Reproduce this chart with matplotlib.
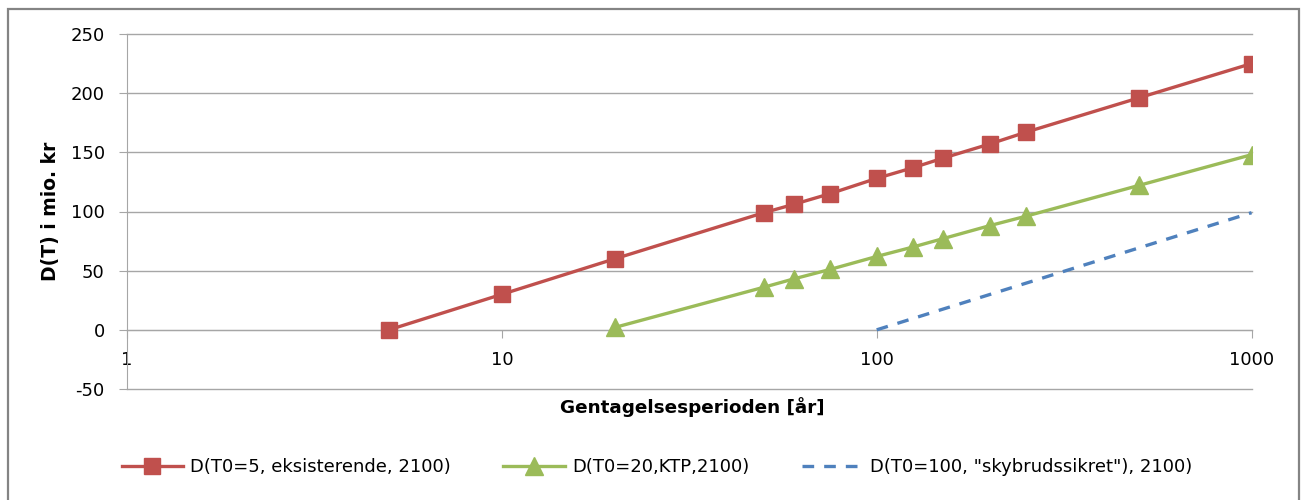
import matplotlib.pyplot as plt
from matplotlib.patches import Rectangle
from matplotlib.ticker import FixedLocator, NullLocator

# Data
t_red = [5, 10, 20, 50, 60, 75, 100, 125, 150, 200, 250, 500, 1000]
d_red = [0, 30, 60, 99, 106, 115, 128, 137, 145, 157, 167, 196, 225]

t_green = [20, 50, 60, 75, 100, 125, 150, 200, 250, 500, 1000]
d_green = [2, 36, 43, 51, 62, 70, 77, 88, 96, 122, 148]

t_blue = [100, 1000]
d_blue = [0, 99]

labels = [
    "D(T0=5, eksisterende, 2100)",
    "D(T0=20,KTP,2100)",
    'D(T0=100, "skybrudssikret"), 2100)',
]
x_ticks = [1, 10, 100, 1000]
y_ticks = [-50, 0, 50, 100, 150, 200, 250]

RED = "#C0504D"
GREEN = "#9BBB59"
BLUE = "#4F81BD"
GRID = "#A6A6A6"

plt.rcParams["font.family"] = ["DejaVu Sans"]
plt.rcParams["axes.unicode_minus"] = False

fig = plt.figure(figsize=(13.01, 5.0), dpi=100)
ax = fig.add_axes([0.0976, 0.222, 0.8644, 0.710])

# chart border (bottom edge runs off the image, like the reference)
fig.patches.append(
    Rectangle((0.0061, -0.02), 0.9924, 1.002, transform=fig.transFigure,
              fill=False, edgecolor="#848484", linewidth=1.6)
)

ax.plot(t_red, d_red, color=RED, linewidth=2.4, marker="s", markersize=12,
        label=labels[0], zorder=3)
ax.plot(t_green, d_green, color=GREEN, linewidth=2.4, marker="^", markersize=13,
        label=labels[1], zorder=3)
ax.plot(t_blue, d_blue, color=BLUE, linewidth=2.4, linestyle=(0, (3.5, 3)),
        label=labels[2], zorder=3)

ax.set_xscale("log")
ax.set_xlim(1, 1000)
ax.set_ylim(-50, 250)
ax.xaxis.set_major_locator(FixedLocator(x_ticks))
ax.xaxis.set_minor_locator(NullLocator())
ax.set_xticklabels([str(v) for v in x_ticks])
ax.set_yticks(y_ticks)

ax.grid(axis="y", color=GRID, linewidth=1.0)
ax.set_axisbelow(True)
for line in ax.get_ygridlines():
    line.set_clip_on(False)

for s in ["top", "right"]:
    ax.spines[s].set_visible(False)
ax.spines["left"].set_color(GRID)
ax.spines["bottom"].set_color(GRID)
ax.spines["bottom"].set_position(("data", 0))

ax.tick_params(axis="y", length=6, color=GRID, labelsize=13, pad=10)
ax.tick_params(axis="x", length=6, color=GRID, labelsize=13, pad=9,
               direction="out")

fig.text(0.039, 0.578, "D(T) i mio. kr", rotation=90, ha="center",
         va="center", fontsize=13.5, fontweight="bold")
fig.text(0.532, 0.186, "Gentagelsesperioden [år]", ha="center",
         va="center", fontsize=13.2, fontweight="bold")

fig.legend(loc="center", bbox_to_anchor=(0.505, 0.066), ncol=3, frameon=False,
           fontsize=13, handlelength=3.4, columnspacing=2.9, handletextpad=0.4)

fig.savefig("out.png", dpi=100)
